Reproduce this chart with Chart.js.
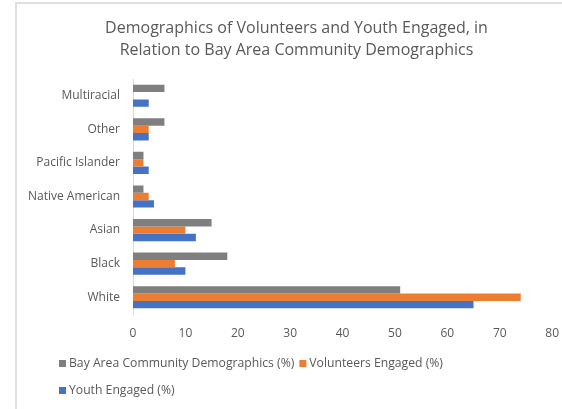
<!DOCTYPE html>
<html>
<head>
<meta charset="utf-8">
<script src="https://cdn.jsdelivr.net/npm/chart.js@4.4.1/dist/chart.umd.min.js"></script>
<style>
  html, body { margin:0; padding:0; background:#fff; }
  #wrap { position:relative; width:562px; height:409px; overflow:hidden; }
  #frame { position:absolute; left:15px; top:2px; right:-5px; bottom:-5px; border-left:2px solid #dedede; border-top:2px solid #dedede; }
  #c { position:absolute; left:0; top:0; }
</style>
</head>
<body>
<div id="wrap">
  <div id="frame"></div>
  <canvas id="c" width="562" height="409"></canvas>
</div>
<script>
// chart values
const groups   = ['Multiracial', 'Other', 'Pacific Islander', 'Native American', 'Asian', 'Black', 'White'];
const bayArea  = [6, 6, 2, 2, 15, 18, 51];
const volunteers = [0, 3, 2, 3, 10, 8, 74];
const youth    = [3, 3, 3, 4, 12, 10, 65];
const seriesNames = ['Bay Area Community Demographics (%)', 'Volunteers Engaged (%)', 'Youth Engaged (%)'];
const xTicks   = [0, 10, 20, 30, 40, 50, 60, 70, 80];
const titleLines = ['Demographics of Volunteers and Youth Engaged, in', 'Relation to Bay Area Community Demographics'];

const FONT = '"Open Sans"';
const GREY_TXT = '#595959';

// Excel centres the title a bit right of the canvas middle
const titleShift = {
  id: 'titleShift',
  beforeDraw(chart) { if (chart.titleBlock) { chart.titleBlock.left = 42; chart.titleBlock.right = 551; } }
};

// legend drawn by hand so it wraps the way Excel does (2 items, then 1)
const wrapLegend = {
  id: 'wrapLegend',
  afterDraw(chart) {
    const ctx = chart.ctx;
    ctx.save();
    ctx.font = '12.2px ' + FONT;
    ctx.textBaseline = 'middle';
    let x = 59, y = 364;
    chart.data.datasets.forEach(function(ds) {
      const w = 10 + ctx.measureText(ds.label).width;
      if (x + w > 470) { x = 59; y += 27; }
      ctx.fillStyle = ds.backgroundColor;
      ctx.fillRect(x, y - 4, 7, 7);
      ctx.fillStyle = GREY_TXT;
      ctx.fillText(ds.label, x + 10, y);
      x += w + 5;
    });
    ctx.restore();
  }
};

function draw() {
  new Chart(document.getElementById('c'), {
    type: 'bar',
    data: {
      labels: groups,
      datasets: [
        { label: seriesNames[0], data: bayArea,    backgroundColor: '#7f7f7f' },
        { label: seriesNames[1], data: volunteers, backgroundColor: '#ed7d31' },
        { label: seriesNames[2], data: youth,      backgroundColor: '#4472c4' }
      ]
    },
    options: {
      indexAxis: 'y',
      responsive: false,
      animation: false,
      datasets: { bar: { barPercentage: 1, categoryPercentage: 0.66 } },
      layout: { padding: { left: 0, right: 4, top: 0, bottom: 65 } },
      plugins: {
        legend: { display: false },
        tooltip: { enabled: false },
        title: {
          display: true,
          text: titleLines,
          color: GREY_TXT,
          font: { family: FONT, size: 16, weight: 'normal', lineHeight: 1.375 },
          padding: { top: 17, bottom: 18 }
        }
      },
      scales: {
        x: {
          min: 0, max: 80,
          afterBuildTicks: function(s) { s.ticks = xTicks.map(function(v){ return {value: v}; }); },
          afterFit: function(s) { s.height = 30; },
          // tick marks hidden, but their length still pushes the labels down
          grid: { display: false, drawTicks: true, tickLength: 9 },
          border: { display: false },
          ticks: { color: GREY_TXT, padding: 3, font: { family: FONT, size: 12 } }
        },
        y: {
          afterFit: function(s) { s.width = 133; },
          grid: { display: false, drawTicks: false },
          border: { display: true, color: '#d9d9d9', width: 1 },
          ticks: { color: GREY_TXT, padding: 13, font: { family: FONT, size: 12 } }
        }
      }
    },
    plugins: [titleShift, wrapLegend]
  });
}

if (document.fonts && document.fonts.load) {
  Promise.all([document.fonts.load('12px "Open Sans"'), document.fonts.load('16px "Open Sans"')])
    .then(draw, draw);
} else {
  draw();
}
</script>
</body>
</html>
